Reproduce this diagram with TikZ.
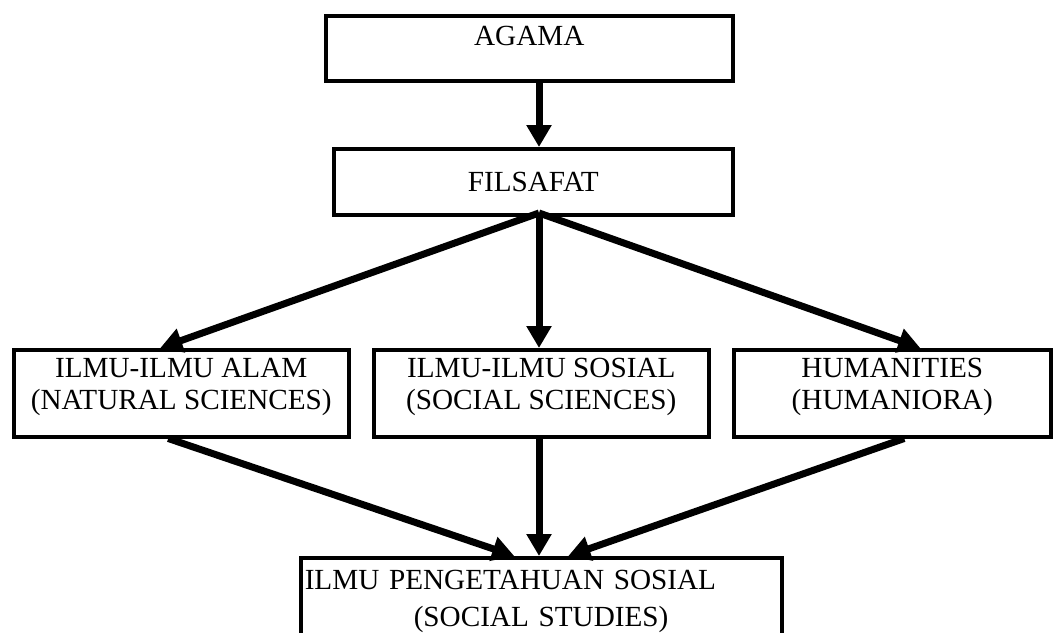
\documentclass[tikz,border=0pt]{standalone}
\usepackage{fontspec}
\setmainfont{Liberation Serif}
\usetikzlibrary{arrows.meta,calc}
\tikzset{
    box/.style =    {rectangle,
                    fill=white,
                    draw=black,
                    text=black,
                    line width=3.5pt,
                    inner sep=0pt,
                    anchor=north west,
                    font=\fontsize{29.2}{32}\selectfont},
    rowbox/.style = {box,
                    align=center,
                    minimum width=335pt,
                    minimum height=87pt,
                    execute at end node={\rule[-19pt]{0pt}{19pt}}},
    link/.style =   {line width=7pt,
                    ->},
    >={Triangle[length=22pt,width=24pt]},
    x=1pt,
    y=-1pt}

\begin{document}
\begin{tikzpicture}
                \useasboundingbox (0,0) rectangle (1059,632);
                \node[box, minimum width=407pt, minimum height=65pt,
                      text height=30pt, text depth=35pt]   (agama)     at (324,14)  {AGAMA};
                \node[box, minimum width=399pt, minimum height=66pt] (filsafat) at (332,147) {FILSAFAT};
                \node[rowbox]                       (alam)      at (12,348)  {ILMU-ILMU ALAM\\(NATURAL SCIENCES)};
                \node[rowbox]                       (sosial)    at (372,348) {ILMU-ILMU SOSIAL\\(SOCIAL SCIENCES)};
                \node[rowbox, minimum width=317pt]  (humaniora) at (732,348) {HUMANITIES\\(HUMANIORA)};
                \node[box, minimum width=481pt, minimum height=88pt,
                      text width=473pt, inner xsep=4pt, align=left] (ips) at (299,556)
                      {ILMU PENGETAHUAN SOSIAL\\[5pt]\hspace*{109pt}(SOCIAL STUDIES)};
                \coordinate (hub) at (539,213);
                % agama ke filsafat
                \draw[link] (agama.south -| hub) -- (filsafat.north -| hub);
                % filsafat ke tiga cabang ilmu
                \draw[link] (hub) -- ([xshift=-21pt]alam.north);
                \draw[link] (hub) -- (sosial.north -| hub);
                \draw[link] (hub) -- ([xshift=28pt]humaniora.north);
                % tiga cabang ke IPS
                \draw[link] ([xshift=-13pt]alam.south) -- ([xshift=-27pt]ips.north);
                \draw[link] (sosial.south -| hub) -- (ips.north -| hub);
                \draw[link] ([xshift=12pt]humaniora.south) -- ([xshift=27pt]ips.north);
\end{tikzpicture}
\end{document}
